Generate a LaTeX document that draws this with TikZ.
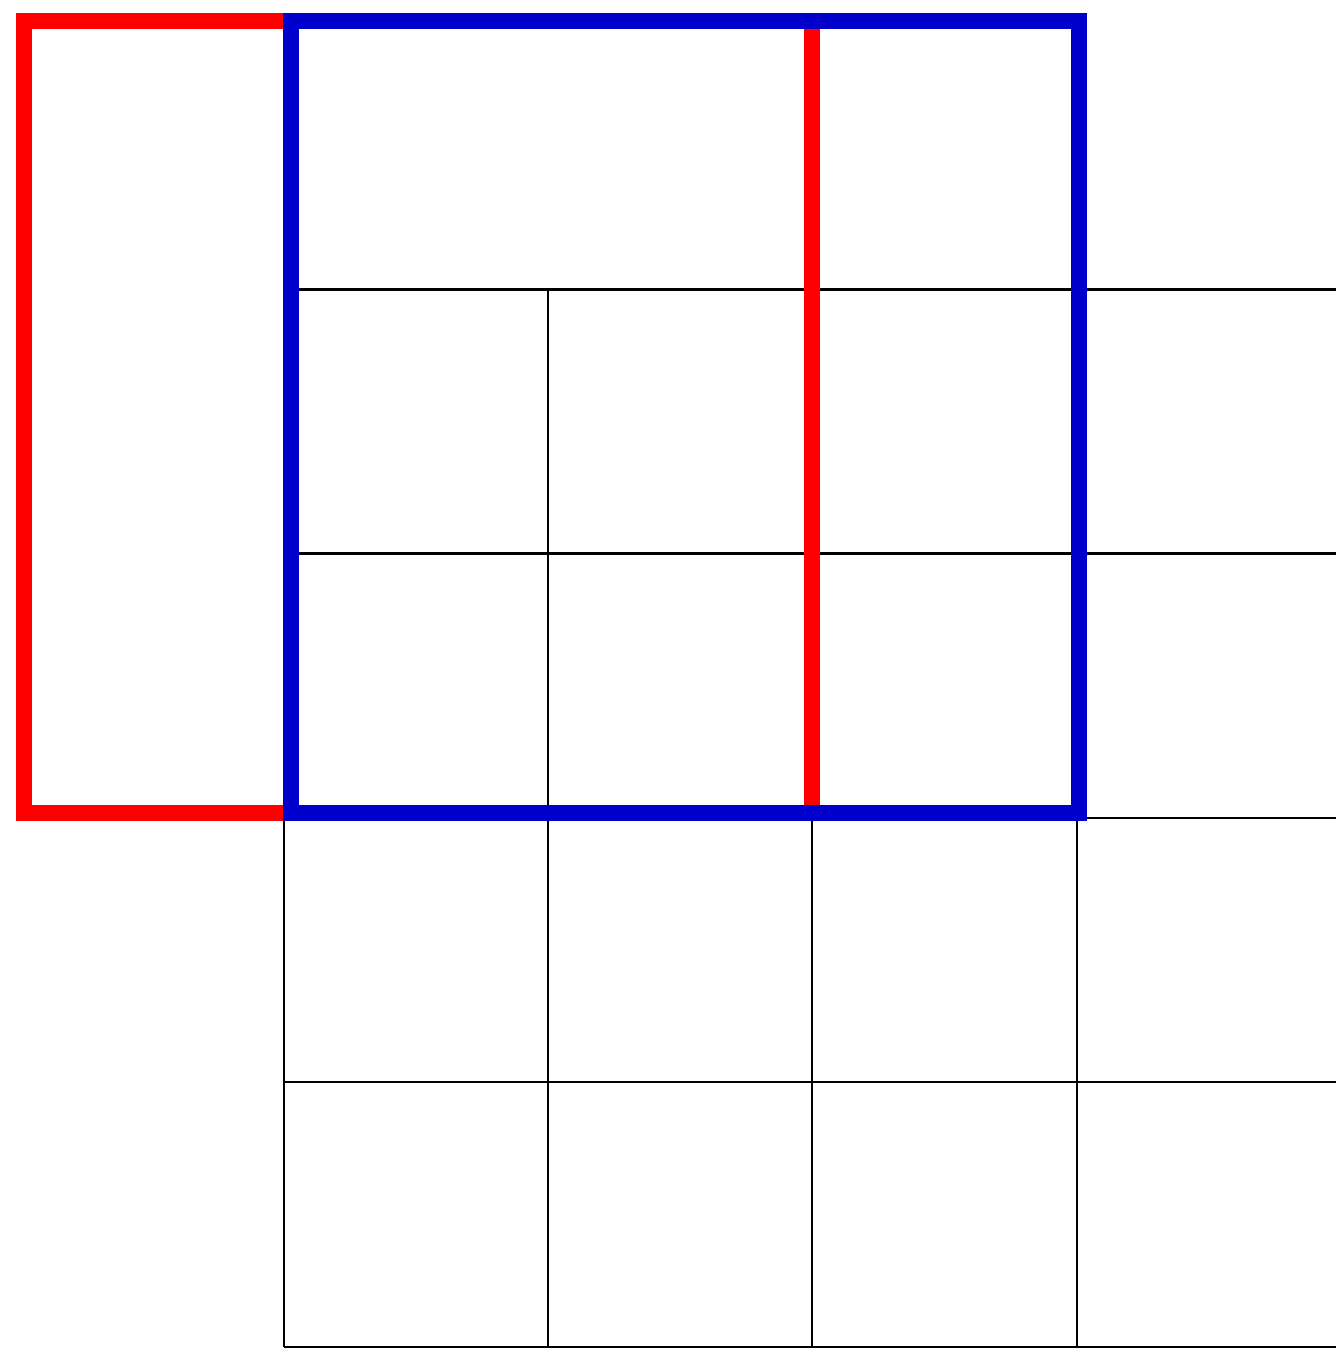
\documentclass[tikz,border=0pt]{standalone}
\definecolor{boxred}{HTML}{FF0000}
\definecolor{boxblue}{HTML}{0000CC}
\tikzset{
  gridline/.style={draw=black, line width=1.35pt},
  redbox/.style={draw=boxred, line width=8pt},
  bluebox/.style={draw=boxblue, line width=8pt}
}
\begin{document}
\begin{tikzpicture}[x=0.5pt,y=-0.5pt]
\useasboundingbox (0,0) rectangle (1336,1349);
\clip (0,0) rectangle (1336,1349);
\foreach \y in {289.5,553.5,818,1082,1347}
  \draw[gridline] (284,\y) -- (1345,\y);
\foreach \x in {284,548,812,1077}
  \draw[gridline] (\x,289.5) -- (\x,1347);
\draw[redbox] (24,21) rectangle (812,813);
\draw[bluebox] (290.5,21) rectangle (1079,813);
\end{tikzpicture}
\end{document}
